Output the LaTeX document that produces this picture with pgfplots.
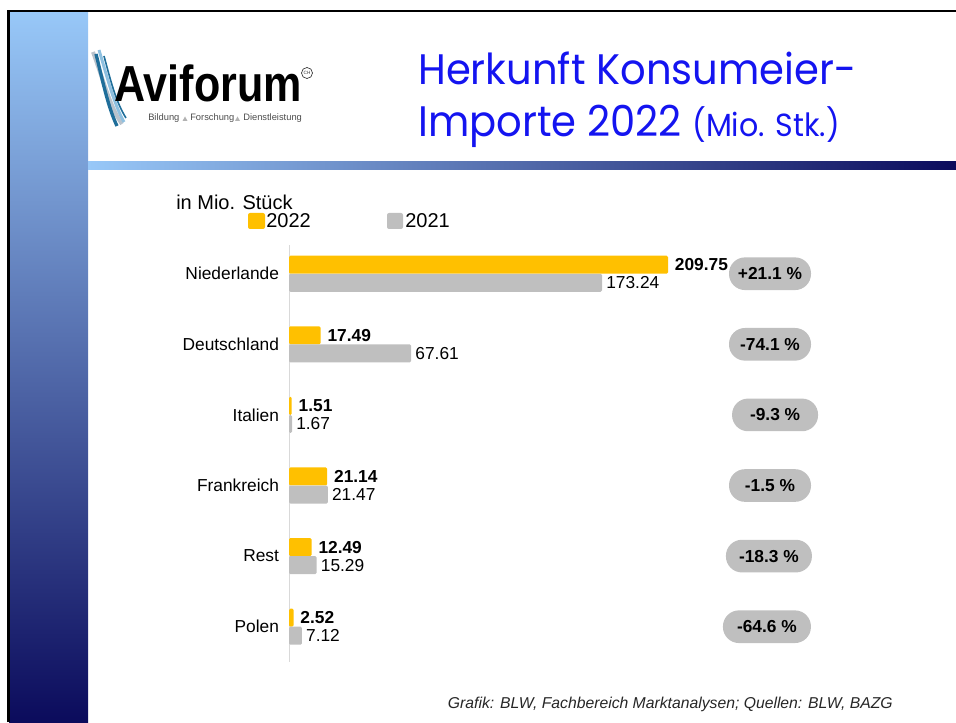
\documentclass[border=0pt]{standalone}
\usepackage{graphicx}
\usepackage{pgfplots}
\pgfplotsset{compat=1.18}
\usepackage{fontspec}
\setmainfont{Liberation Sans}
\newfontfamily\titlefont{Poppins}
\definecolor{barY}{HTML}{FFC000}
\definecolor{barG}{HTML}{BFBFBF}
\definecolor{lblue}{HTML}{98C8F8}
\definecolor{midblue}{HTML}{7A9CD0}
\definecolor{navy}{HTML}{0B0B5C}
\definecolor{tblue}{HTML}{1414F0}
\definecolor{sw1}{HTML}{1F6E9A}
\definecolor{sw2}{HTML}{8EC0E0}
\definecolor{sw3}{HTML}{B8C2CC}
\newcommand\fs[1]{\fontsize{#1}{#1}\selectfont}
\pgfplotstableread{
y x l
-0.128 209.75 209.75
0.872 17.49 17.49
1.872 1.51 1.51
2.872 21.14 21.14
3.872 12.49 12.49
4.872 2.52 2.52
}\dataA
\pgfplotstableread{
y x l
0.128 173.24 173.24
1.128 67.61 67.61
2.128 1.67 1.67
3.128 21.47 21.47
4.128 15.29 15.29
5.128 7.12 7.12
}\dataB
\begin{document}
\begin{tikzpicture}[x=0.75pt,y=0.75pt]
\path[use as bounding box] (0,0) rectangle (956,722);
% frame and gradients
\shade[top color=lblue, middle color=midblue, bottom color=navy] (9,0) rectangle (88,711);
\shade[left color=lblue, middle color=midblue, right color=navy] (88,552) rectangle (956,560);
\draw[line width=2.2pt] (8.5,0) -- (8.5,711) -- (956,711);
% logo
\draw[line width=3pt, sw3] (93,670) .. controls (104,640) and (110,615) .. (122,598);
\draw[line width=2.2pt, sw2] (99,672) .. controls (108,642) and (114,618) .. (124,600);
\draw[line width=2.5pt, sw1] (96,668) .. controls (103,640) and (108,615) .. (117,596);
\draw[line width=1.2pt, sw1] (104,666) .. controls (111,640) and (116,620) .. (126,604);
\node[anchor=base west, inner sep=0pt] at (114,620) {\scalebox{0.85}[1]{\bfseries\fontsize{38}{38}\selectfont Aviforum}};
\draw[line width=0.5pt, black!80] (307,649) circle (5.5);
\node[inner sep=0pt, black!80] at (307,649) {\fontsize{3.5}{3.5}\selectfont CH};
\node[anchor=base west, inner sep=0pt, text=black!70] at (148,601) {\fs{7}Bildung};
\fill[black!30] (182.5,601) -- (187.5,601) -- (185,605.5) -- cycle;
\node[anchor=base west, inner sep=0pt, text=black!70] at (190,601) {\fs{7}Forschung};
\fill[black!30] (235,601) -- (240,601) -- (237.5,605.5) -- cycle;
\node[anchor=base west, inner sep=0pt, text=black!70] at (243,601) {\fs{7}Dienstleistung};
% title
\node[anchor=base west, inner sep=0pt, text=tblue] at (418,637) {\scalebox{0.94}[1]{\titlefont\fs{32}Herkunft Konsumeier-}};
\node[anchor=base west, inner sep=0pt, text=tblue] at (418,585) {\scalebox{0.94}[1]{\titlefont\fs{32}Importe 2022 {\fs{24}(Mio. Stk.)}}};
% legend and unit
\node[anchor=base west, inner sep=0pt] at (176,512) {\fs{15}in Mio. Stück};
\fill[barY, rounded corners=1.5pt] (248,493) rectangle (265,509);
\node[anchor=base west, inner sep=0pt] at (266,494) {\fs{15}2022};
\fill[barG, rounded corners=1.5pt] (387,493) rectangle (403,509);
\node[anchor=base west, inner sep=0pt] at (405,494) {\fs{15}2021};
% source
\node[anchor=base east, inner sep=0pt, text=black!85] at (893,14) {\itshape\fs{11.8}Grafik: BLW, Fachbereich Marktanalysen; Quellen: BLW, BAZG};
\begin{axis}[
  at={(216.75pt,45pt)}, anchor=south west, scale only axis,
  width=338.8pt, height=312.4pt,
  xmin=0, xmax=250, ymin=-0.4, ymax=5.5, y dir=reverse,
  axis x line=none, axis y line*=left,
  y axis line style={draw=black!15, -},
  ytick={0,1,2,3,4,5},
  yticklabels={Niederlande,Deutschland,Italien,Frankreich,Rest,Polen},
  major tick length=0pt,
  yticklabel style={font=\fs{13}, text=black, xshift=-4pt},
  xbar, bar width=0.255, bar shift=0pt,
  clip=false,
  nodes near coords, point meta=explicit symbolic,
  nodes near coords style={anchor=west, font=\fs{13}, text=black},
]
\addplot[draw=none, fill=barY, rounded corners=1pt, nodes near coords style={font=\bfseries\fs{13}, inner sep=5pt}] table[x=x,y=y,meta=l] {\dataA};
\addplot[draw=none, fill=barG, rounded corners=1pt, nodes near coords style={inner sep=3pt}] table[x=x,y=y,meta=l] {\dataB};
\tikzset{pill/.style={fill=barG, rounded corners=12pt, minimum width=61.5pt, minimum height=24.5pt, inner sep=0pt, font=\bfseries\fs{13}}}
\node[pill] at (axis cs:266.2,0) {+21.1 \%};
\node[pill] at (axis cs:266.2,1) {-74.1 \%};
\node[pill, minimum width=64.5pt] at (axis cs:269,2) {-9.3 \%};
\node[pill] at (axis cs:266.2,3) {-1.5 \%};
\node[pill, minimum width=64.5pt] at (axis cs:265.6,4) {-18.3 \%};
\node[pill, minimum width=66pt] at (axis cs:264.5,5) {-64.6 \%};
\end{axis}
\end{tikzpicture}
\end{document}
